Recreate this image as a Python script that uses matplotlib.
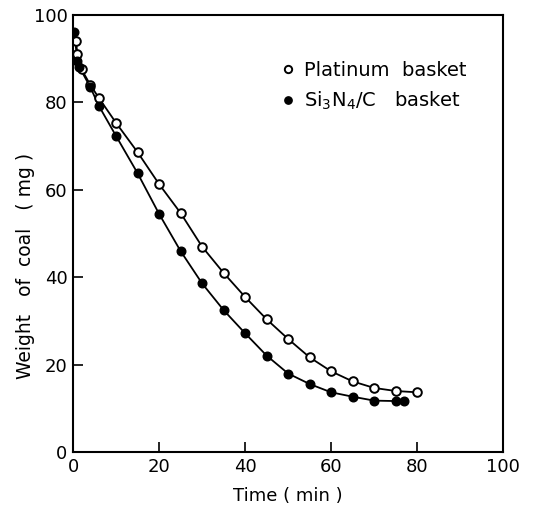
import matplotlib
matplotlib.use("Agg")
import matplotlib.pyplot as plt

# Platinum basket (open circles)
pt_time = [0.7, 1, 2, 4, 6, 10, 15, 20, 25, 30, 35, 40, 45, 50, 55, 60, 65, 70, 75, 80]
pt_weight = [94, 91, 87.5, 84, 81, 75.3, 68.6, 61.3, 54.7, 47, 41, 35.5, 30.4, 25.9, 21.7, 18.5, 16.2, 14.7, 14, 13.7]

# Si3N4/C basket (filled circles)
si_time = [0.3, 1, 1.5, 4, 6, 10, 15, 20, 25, 30, 35, 40, 45, 50, 55, 60, 65, 70, 75, 77]
si_weight = [96, 89.5, 88, 83.5, 79.2, 72.3, 63.8, 54.5, 46, 38.6, 32.5, 27.2, 22.1, 18, 15.6, 13.7, 12.7, 11.8, 11.7, 11.7]

x_ticks = [0, 20, 40, 60, 80, 100]
y_ticks = [0, 20, 40, 60, 80, 100]

fig = plt.figure(figsize=(5.37, 5.11), dpi=100)
ax = fig.add_axes([0.136, 0.115, 0.801, 0.856])

ax.plot(pt_time, pt_weight, '-', color='black', lw=1.3)
ax.plot(si_time, si_weight, '-', color='black', lw=1.3)
ax.plot(pt_time, pt_weight, 'o', ms=6.2, mfc='white', mec='black', mew=1.4,
        label='Platinum  basket')
ax.plot(si_time, si_weight, 'o', ms=6.2, mfc='black', mec='black',
        label='Si$_3$N$_4$/C   basket')

ax.set_xlim(0, 100)
ax.set_ylim(0, 100)
ax.set_xticks(x_ticks)
ax.set_yticks(y_ticks)
ax.tick_params(direction='in', length=7, width=1.2, labelsize=13, pad=4)
for s in ax.spines.values():
    s.set_linewidth(1.5)

ax.set_xlabel('Time ( min )', fontsize=13, labelpad=8)
ax.set_ylabel('Weight   of  coal   ( mg )', fontsize=13.5)
ax.yaxis.set_label_coords(-0.088, 0.425)

ax.legend(loc='upper right', bbox_to_anchor=(0.955, 0.935), frameon=False,
          fontsize=14, handletextpad=0.3, handlelength=1.0,
          labelspacing=0.5, markerscale=0.85)

fig.savefig('out.png', dpi=100)
